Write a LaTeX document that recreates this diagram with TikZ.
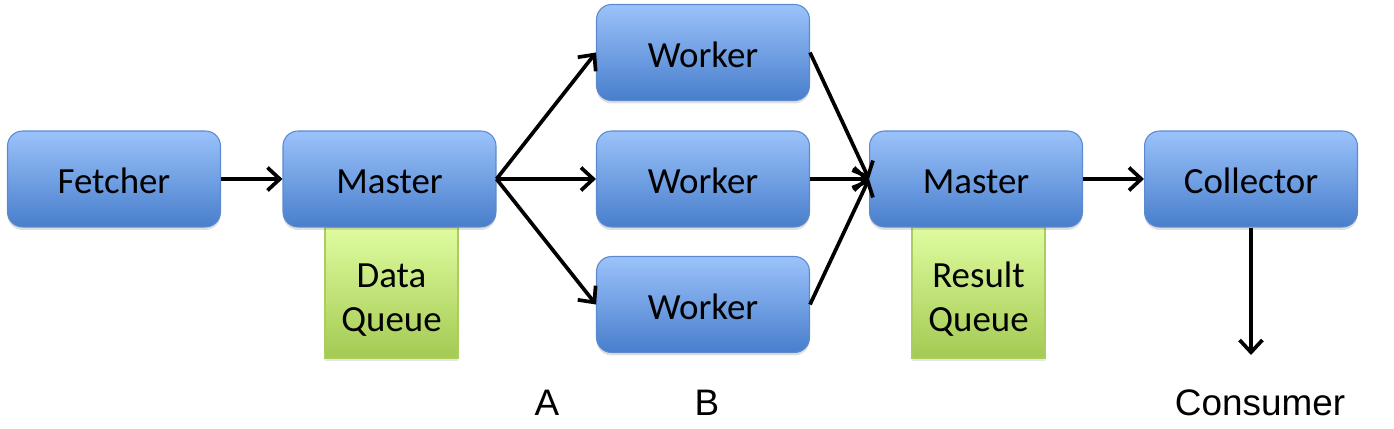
\documentclass[tikz,border=0pt]{standalone}
\usepackage{fontspec}
\setmainfont{Carlito}
\newfontfamily\labelfont{Liberation Sans}
\usepackage{tikz}
\usetikzlibrary{arrows.meta,shadows}

\definecolor{blueTop}{RGB}{155,194,250}
\definecolor{blueBot}{RGB}{72,126,204}
\definecolor{blueLine}{RGB}{92,138,206}
\definecolor{greenTop}{RGB}{223,252,160}
\definecolor{greenBot}{RGB}{164,202,82}
\definecolor{greenLine}{RGB}{170,205,95}

\begin{document}
\begin{tikzpicture}[x=0.02cm, y=-0.02cm,
  every node/.style = {font=\fontsize{21}{24}\selectfont, align=center},
  procbox/.style = {draw=blueLine, line width=0.6pt, rounded corners=0.3cm,
    top color=blueTop, bottom color=blueBot,
    minimum width=4.26cm, minimum height=1.92cm,
    text height=0.6cm, text depth=0cm,
    drop shadow={shadow xshift=0pt, shadow yshift=-0.06cm, opacity=0.25}},
  queuebox/.style = {draw=greenLine, line width=0.6pt,
    top color=greenTop, bottom color=greenBot,
    minimum width=2.66cm, minimum height=2.62cm,
    font=\fontsize{21}{25.5}\selectfont,
    text height=1.58cm, text depth=0cm,
    drop shadow={shadow xshift=0pt, shadow yshift=-0.06cm, opacity=0.2}},
  plain/.style = {font=\labelfont\fontsize{21}{25}\selectfont},
  flow/.style = {line width=2.1pt, -{Straight Barb[length=7pt, width=13pt, line width=2.1pt]}}]
  \useasboundingbox (0,0) rectangle (1394,429);

  % queues sit under the masters
  \node[queuebox] (dq) at (391.5,292.5) {Data\\Queue};
  \node[queuebox] (rq) at (978.5,292.5) {Result\\Queue};

  \node[procbox] (fetch) at (114,179) {Fetcher};
  \node[procbox] (mA) at (389.5,179) {Master};
  \node[procbox] (w1) at (703,52.5) {Worker};
  \node[procbox] (w2) at (703,179) {Worker};
  \node[procbox] (w3) at (703,304.5) {Worker};
  \node[procbox] (mB) at (976,179) {Master};
  \node[procbox] (coll) at (1251,179) {Collector};

  \node[plain] (A) at (547,403) {A};
  \node[plain] (B) at (707,403) {B};
  \node[plain] (cons) at (1260,403) {Consumer};
  \coordinate (sink) at (1251,355);

  \draw[flow] (fetch) -- (mA);
  \foreach \w in {w1,w2,w3} {
    \draw[flow] (mA.east) -- (\w.west);
    \draw[flow] (\w.east) -- (mB.west);
  }
  \draw[flow] (mB) -- (coll);
  \draw[flow] (coll.south) -- (sink);
\end{tikzpicture}
\end{document}
